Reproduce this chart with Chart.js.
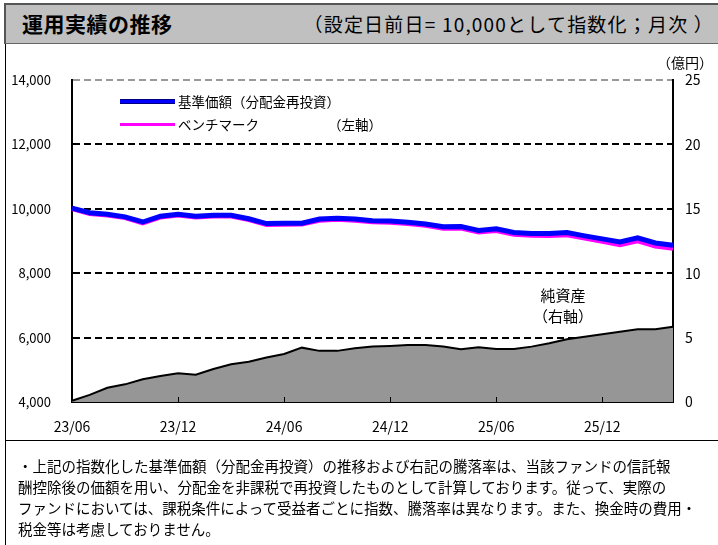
<!DOCTYPE html>
<html lang="ja">
<head>
<meta charset="UTF-8">
<title>運用実績の推移</title>
<script src="https://cdn.jsdelivr.net/npm/chart.js"></script>
<style>
body { margin: 0; background: #fff; }
#page {
    position: relative;
    width: 718px;
    height: 545px;
    overflow: hidden;
    background: #fff;
    font-family: 'Noto Sans CJK JP', sans-serif;
    color: #000;
}
.band {
    position: absolute;
    left: 4px; top: 3px; right: 0; height: 38px;
    background: #c0c0c0;
    border-top: 2px solid #555;
    border-left: 2px solid #555;
    border-bottom: 1px solid #666;
}
.band .title {
    position: absolute; left: 16px; top: 5px;
    font-size: 21px; font-weight: bold; line-height: 27px; letter-spacing: 0.5px;
}
.band .sub {
    position: absolute; right: 4px; top: 6px;
    font-size: 19px; line-height: 25px; letter-spacing: 1.2px;
}
.frame-left { position: absolute; left: 5px; top: 44px; width: 1px; height: 501px; background: #000; }
.sep { position: absolute; left: 5px; top: 440px; right: 0; height: 1px; background: #000; }
canvas { position: absolute; left: 0; top: 0; }
.lbl { position: absolute; font-size: 13.5px; line-height: 16px; white-space: nowrap; }
.swatch { position: absolute; }
.note {
    position: absolute; left: 18px; top: 455px;
    font-size: 14.5px; line-height: 21px; white-space: pre; color: #000;
}
.na {
    position: absolute; left: 523px; top: 284px; width: 80px;
    text-align: center; font-size: 15px; line-height: 21px;
}
</style>
</head>
<body>
<div id="page">
    <div class="band">
        <div class="title">運用実績の推移</div>
        <div class="sub">（設定日前日= 10,000として指数化；月次 ）</div>
    </div>
    <div class="frame-left"></div>
    <div class="sep"></div>
    <canvas id="chart" width="718" height="545"></canvas>

    <div class="lbl" style="right:5px; top:54px; font-size:14px;">（億円）</div>
    <div class="swatch" style="left:120px; top:99px; width:55px; height:5px; background:#0000ff; border-top:1px solid #000080; border-bottom:1px solid #000080; box-sizing:border-box;"></div>
    <div class="lbl" style="left:178px; top:93px;">基準価額（分配金再投資）</div>
    <div class="swatch" style="left:120px; top:123px; width:55px; height:3px; background:#ff00ff;"></div>
    <div class="lbl" style="left:178px; top:116px;">ベンチマーク</div>
    <div class="lbl" style="left:328px; top:116px;">（左軸）</div>
    <div class="na">純資産<br>（右軸）</div>

    <div class="note">・上記の指数化した基準価額（分配金再投資）の推移および右記の騰落率は、当該ファンドの信託報
酬控除後の価額を用い、分配金を非課税で再投資したものとして計算しております。従って、実際の
ファンドにおいては、課税条件によって受益者ごとに指数、騰落率は異なります。また、換金時の費用・
税金等は考慮しておりません。</div>
</div>

<script>
// 月次データ（23/06〜26/04）
const months = [
    '23/06','23/07','23/08','23/09','23/10','23/11','23/12',
    '24/01','24/02','24/03','24/04','24/05','24/06','24/07','24/08','24/09','24/10','24/11','24/12',
    '25/01','25/02','25/03','25/04','25/05','25/06','25/07','25/08','25/09','25/10','25/11','25/12',
    '26/01','26/02','26/03','26/04'
];

// 基準価額（分配金再投資）
const fundValues = [
    10020, 9880, 9830, 9750, 9590, 9770, 9830,
    9770, 9800, 9800, 9690, 9540, 9550, 9555, 9680, 9710, 9680, 9630, 9620,
    9580, 9530, 9440, 9450, 9330, 9380, 9265, 9230, 9230, 9265, 9160, 9065,
    8970, 9100, 8940, 8870
];

// ベンチマーク
const benchmarkValues = [
    9990, 9840, 9790, 9710, 9550, 9730, 9790,
    9730, 9760, 9760, 9650, 9500, 9505, 9510, 9630, 9660, 9630, 9580, 9565,
    9525, 9470, 9380, 9390, 9265, 9310, 9195, 9160, 9155, 9180, 9075, 8975,
    8870, 8990, 8830, 8760
];

// 純資産（億円）
const netAssets = [
    0.1, 0.55, 1.1, 1.37, 1.76, 2.02, 2.23,
    2.12, 2.56, 2.93, 3.13, 3.45, 3.73, 4.22, 3.97, 3.97, 4.17, 4.3, 4.35,
    4.43, 4.43, 4.3, 4.09, 4.25, 4.11, 4.11, 4.3, 4.56, 4.87, 5.07, 5.26,
    5.46, 5.64, 5.64, 5.85
];

// 目盛り
const leftTicks = [4000, 6000, 8000, 10000, 12000, 14000];
const leftTickLabels = ['4,000', '6,000', '8,000', '10,000', '12,000', '14,000'];
const rightTicks = [0, 5, 10, 15, 20, 25];
const xLabelEvery = 6;

// x軸の内向き目盛り線
const innerTicks = {
    id: 'innerTicks',
    afterDatasetsDraw(chart) {
        const x = chart.scales.x;
        const ctx = chart.ctx;
        const bottom = chart.chartArea.bottom;
        ctx.save();
        ctx.strokeStyle = '#000';
        ctx.lineWidth = 1;
        for (let i = xLabelEvery; i < months.length - 1; i += xLabelEvery) {
            const px = Math.round(x.getPixelForValue(i)) + 0.5;
            ctx.beginPath();
            ctx.moveTo(px, bottom);
            ctx.lineTo(px, bottom - 5);
            ctx.stroke();
        }
        ctx.restore();
    }
};

const tickFont = { family: 'Noto Sans CJK JP', size: 13 };

new Chart(document.getElementById('chart'), {
    type: 'line',
    data: {
        labels: months,
        datasets: [
            {
                label: '基準価額（分配金再投資）',
                data: fundValues,
                yAxisID: 'y',
                borderColor: '#0000ff',
                borderWidth: 5,
                pointRadius: 0,
                tension: 0,
                fill: false,
                order: 1
            },
            {
                label: 'ベンチマーク',
                data: benchmarkValues,
                yAxisID: 'y',
                borderColor: '#ff00ff',
                borderWidth: 4,
                pointRadius: 0,
                tension: 0,
                fill: false,
                order: 2
            },
            {
                label: '純資産',
                data: netAssets,
                yAxisID: 'y1',
                borderColor: '#000',
                borderWidth: 2,
                backgroundColor: '#969696',
                pointRadius: 0,
                tension: 0,
                fill: 'origin',
                order: 3
            }
        ]
    },
    options: {
        responsive: false,
        animation: false,
        devicePixelRatio: 1,
        layout: { padding: { top: 80, left: 0, right: 0, bottom: 0 } },
        plugins: {
            legend: { display: false },
            tooltip: { enabled: false }
        },
        scales: {
            x: {
                type: 'category',
                offset: false,
                grid: { display: false },
                border: { display: true, color: '#000', width: 2 },
                ticks: {
                    autoSkip: false,
                    maxRotation: 0,
                    padding: 8,
                    color: '#000',
                    font: { family: 'Noto Sans CJK JP', size: 14 },
                    callback: (v, i) => (i % xLabelEvery === 0 ? months[i] : '')
                },
                afterFit(scale) { scale.height = 143; }
            },
            y: {
                position: 'left',
                min: leftTicks[0],
                max: leftTicks[leftTicks.length - 1],
                afterBuildTicks(scale) { scale.ticks = leftTicks.map(v => ({ value: v })); },
                grid: {
                    drawTicks: false,
                    lineWidth: 2,
                    color: c => c.tick.value === 4000 ? 'rgba(0,0,0,0)' : (c.tick.value === 14000 ? '#9a9a9a' : '#000')
                },
                border: { display: true, color: '#000', width: 2, dash: [7, 4] },
                ticks: {
                    padding: 21,
                    color: '#000',
                    font: tickFont,
                    callback: v => leftTickLabels[leftTicks.indexOf(v)]
                },
                afterFit(scale) { scale.width = 72; }
            },
            y1: {
                position: 'right',
                min: rightTicks[0],
                max: rightTicks[rightTicks.length - 1],
                afterBuildTicks(scale) { scale.ticks = rightTicks.map(v => ({ value: v })); },
                grid: { display: false, drawTicks: false },
                border: { display: true, color: '#000', width: 2 },
                ticks: {
                    padding: 12,
                    color: '#000',
                    font: { family: 'Noto Sans CJK JP', size: 14 }
                },
                afterFit(scale) { scale.width = 45; }
            }
        }
    },
    plugins: [innerTicks]
});

// グリッドの破線
const chart = Chart.getChart('chart');
chart.options.scales.y.grid.borderDash = [7, 4];
chart.options.scales.y.border.dash = [7, 4];
chart.update();
</script>
</body>
</html>
